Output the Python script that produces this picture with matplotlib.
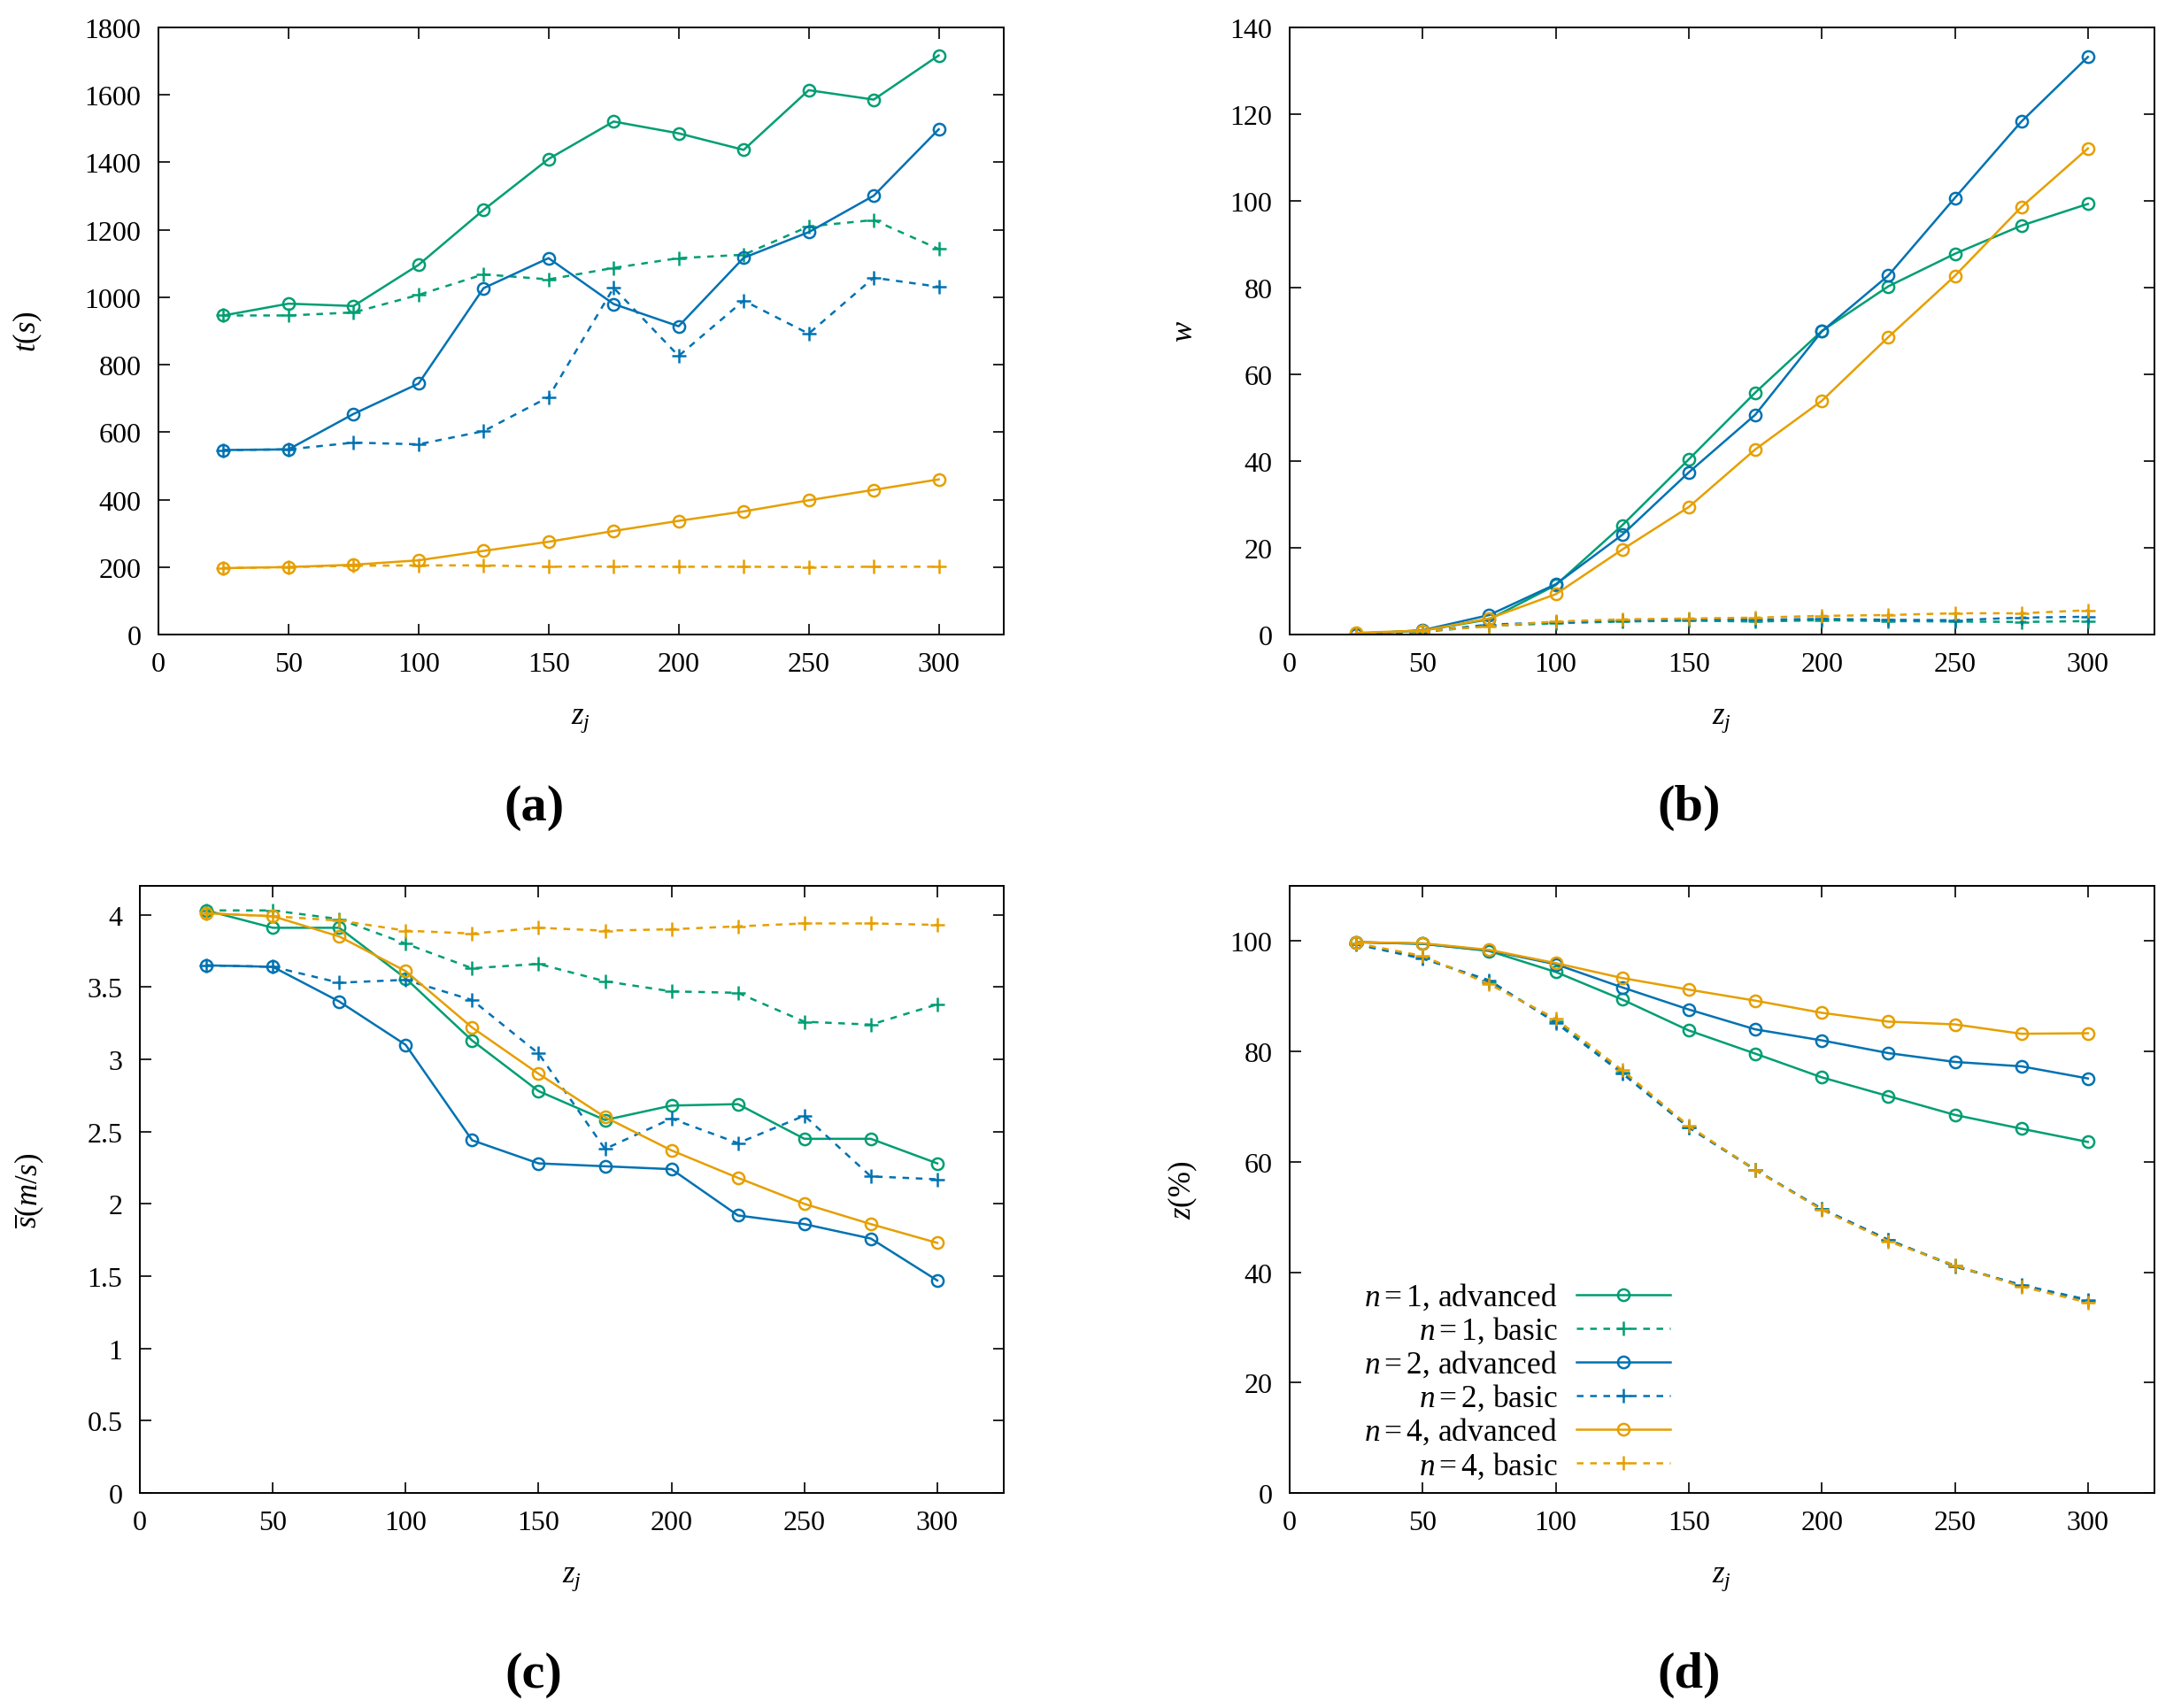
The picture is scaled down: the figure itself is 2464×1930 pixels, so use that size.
import numpy as np
import matplotlib
matplotlib.use('Agg')
import matplotlib.pyplot as plt

plt.rcParams['font.family'] = ['Liberation Serif', 'DejaVu Serif']
plt.rcParams['mathtext.fontset'] = 'custom'
plt.rcParams['mathtext.rm'] = 'Liberation Serif'
plt.rcParams['mathtext.it'] = 'Liberation Serif:italic'
plt.rcParams['mathtext.bf'] = 'Liberation Serif:bold'

z = [25, 50, 75, 100, 125, 150, 175, 200, 225, 250, 275, 300]

# (a) time t(s)
t_n1_adv = [946, 981, 974, 1096, 1259, 1410, 1521, 1486, 1437, 1614, 1586, 1717]
t_n1_bas = [946, 946, 955, 1007, 1068, 1053, 1087, 1116, 1126, 1210, 1229, 1143]
t_n2_adv = [547, 549, 654, 744, 1027, 1116, 980, 914, 1117, 1193, 1301, 1498]
t_n2_bas = [547, 549, 569, 564, 603, 704, 1028, 826, 990, 892, 1058, 1031]
t_n4_adv = [197, 200, 207, 220, 248, 275, 307, 337, 365, 398, 429, 460]
t_n4_bas = [197, 200, 204, 205, 205, 201, 202, 201, 201, 200, 201, 201]

# (b) w
w_n1_adv = [0.2, 0.9, 3.5, 11.4, 25.2, 40.4, 55.8, 70.0, 80.3, 87.8, 94.3, 99.3]
w_n1_bas = [0.1, 0.6, 2.0, 2.6, 3.0, 3.2, 3.0, 3.3, 3.1, 3.0, 2.9, 3.1]
w_n2_adv = [0.1, 1.0, 4.5, 11.6, 23.0, 37.4, 50.7, 69.9, 82.8, 100.7, 118.3, 133.2]
w_n2_bas = [0.1, 0.7, 2.3, 2.8, 3.2, 3.5, 3.4, 3.6, 3.4, 3.3, 3.9, 4.1]
w_n4_adv = [0.4, 0.9, 3.7, 9.3, 19.6, 29.4, 42.7, 53.9, 68.6, 82.7, 98.6, 112.1]
w_n4_bas = [0.3, 0.8, 1.9, 3.0, 3.5, 3.7, 3.9, 4.3, 4.5, 4.9, 4.9, 5.6]

# (c) mean speed
s_n1_adv = [4.03, 3.91, 3.91, 3.56, 3.13, 2.78, 2.58, 2.68, 2.69, 2.45, 2.45, 2.28]
s_n1_bas = [4.03, 4.03, 3.97, 3.80, 3.63, 3.66, 3.54, 3.47, 3.46, 3.26, 3.24, 3.38]
s_n2_adv = [3.65, 3.64, 3.40, 3.10, 2.44, 2.28, 2.26, 2.24, 1.92, 1.86, 1.76, 1.47]
s_n2_bas = [3.65, 3.64, 3.53, 3.55, 3.41, 3.04, 2.38, 2.59, 2.42, 2.61, 2.19, 2.17]
s_n4_adv = [4.01, 3.99, 3.85, 3.61, 3.22, 2.90, 2.60, 2.37, 2.18, 2.00, 1.86, 1.73]
s_n4_bas = [4.01, 3.99, 3.96, 3.89, 3.87, 3.91, 3.89, 3.90, 3.92, 3.94, 3.94, 3.93]

# (d) z(%)
p_n1_adv = [99.8, 99.5, 98.2, 94.4, 89.4, 83.8, 79.6, 75.3, 71.9, 68.5, 66.0, 63.6]
p_n1_bas = [99.5, 97.0, 92.6, 85.5, 76.2, 66.3, 58.6, 51.4, 45.8, 41.2, 37.6, 34.8]
p_n2_adv = [99.8, 99.5, 98.3, 95.8, 91.6, 87.6, 84.0, 82.0, 79.7, 78.1, 77.3, 75.1]
p_n2_bas = [99.4, 96.8, 92.9, 85.2, 76.0, 66.2, 58.5, 51.5, 45.9, 41.0, 37.7, 35.0]
p_n4_adv = [99.8, 99.6, 98.4, 96.0, 93.3, 91.2, 89.2, 87.0, 85.4, 84.9, 83.2, 83.3]
p_n4_bas = [99.6, 97.3, 92.2, 85.9, 76.6, 66.5, 58.5, 51.3, 45.6, 41.2, 37.4, 34.5]

green = '#009E73'
blue = '#0072B2'
orange = '#E69F00'
labels = ['$n = 1$, advanced', '$n = 1$, basic',
          '$n = 2$, advanced', '$n = 2$, basic',
          '$n = 4$, advanced', '$n = 4$, basic']

fig = plt.figure(figsize=(24.64, 19.31), dpi=100)
W, H = 2464., 1931.

def make_ax(l, r, t, b):
    return fig.add_axes([l / W, 1 - b / H, (r - l) / W, (b - t) / H])

ax_a = make_ax(179, 1134, 32, 718)
ax_b = make_ax(1457, 2434, 32, 718)
ax_c = make_ax(158, 1134, 1002, 1688)
ax_d = make_ax(1457, 2434, 1002, 1688)

def draw(ax, ys):
    cols = [green, green, blue, blue, orange, orange]
    for i, y in enumerate(ys):
        if i % 2 == 0:
            ax.plot(z, y, color=cols[i], lw=1.8, marker='o', ms=9.5, mfc='none',
                    mew=1.8, label=labels[i])
        else:
            ax.plot(z, y, color=cols[i], lw=1.8, ls=(0, (3, 3)), marker='+',
                    ms=12, mew=1.8, label=labels[i])
    ax.set_xlim(0, 325)
    ax.set_xticks(np.arange(0, 301, 50))
    ax.tick_params(direction='in', top=True, right=True, length=9, width=1.2,
                   labelsize=23, pad=14)
    for sp in ax.spines.values():
        sp.set_linewidth(1.4)
    ax.set_xlabel('$z_j$', fontsize=25)
    ax.xaxis.set_label_coords(0.5, -0.115)

draw(ax_a, [t_n1_adv, t_n1_bas, t_n2_adv, t_n2_bas, t_n4_adv, t_n4_bas])
ax_a.set_ylim(0, 1800)
ax_a.set_yticks(np.arange(0, 1801, 200))
ax_a.set_ylabel('$t(s)$', fontsize=25)
ax_a.yaxis.set_label_coords(-0.135, 0.5)

draw(ax_b, [w_n1_adv, w_n1_bas, w_n2_adv, w_n2_bas, w_n4_adv, w_n4_bas])
ax_b.set_ylim(0, 140)
ax_b.set_yticks(np.arange(0, 141, 20))
ax_b.set_ylabel('$w$', fontsize=25)
ax_b.yaxis.set_label_coords(-0.104, 0.5)

draw(ax_c, [s_n1_adv, s_n1_bas, s_n2_adv, s_n2_bas, s_n4_adv, s_n4_bas])
ax_c.set_ylim(0, 4.2)
ax_c.set_yticks([0, 0.5, 1, 1.5, 2, 2.5, 3, 3.5, 4])
ax_c.set_yticklabels(['0', '0.5', '1', '1.5', '2', '2.5', '3', '3.5', '4'])
ax_c.set_ylabel(r'$\overline{s}(m/s)$', fontsize=25)
ax_c.yaxis.set_label_coords(-0.109, 0.5)

draw(ax_d, [p_n1_adv, p_n1_bas, p_n2_adv, p_n2_bas, p_n4_adv, p_n4_bas])
ax_d.set_ylim(0, 110)
ax_d.set_yticks(np.arange(0, 101, 20))
ax_d.set_ylabel(r'$z(\%)$', fontsize=25)
ax_d.yaxis.set_label_coords(-0.104, 0.5)
ax_d.legend(loc='lower right', bbox_to_anchor=(0.44, 0.02), markerfirst=False,
            frameon=False, fontsize=25.5, handlelength=3.0, numpoints=1,
            borderpad=0, borderaxespad=0, labelspacing=0.1, handletextpad=0.6)

# panel letters
fig.text(603 / W, 1 - 913 / H, '(a)', fontsize=42, fontweight='bold', ha='center', va='center')
fig.text(1908 / W, 1 - 913 / H, '(b)', fontsize=42, fontweight='bold', ha='center', va='center')
fig.text(603 / W, 1 - 1893 / H, '(c)', fontsize=42, fontweight='bold', ha='center', va='center')
fig.text(1908 / W, 1 - 1893 / H, '(d)', fontsize=42, fontweight='bold', ha='center', va='center')

fig.savefig('out.png', dpi=100)
